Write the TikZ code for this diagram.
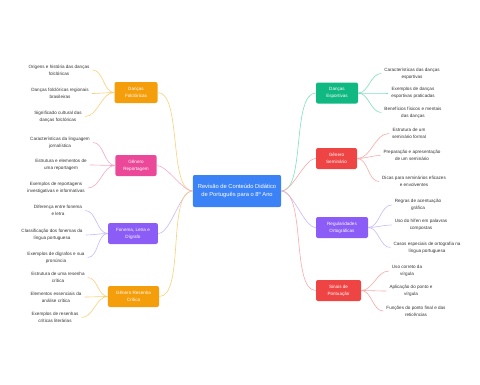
\documentclass[tikz,border=0pt]{standalone}
\usepackage{fontspec}
\setmainfont{Liberation Sans}
\definecolor{rootblue}{HTML}{3B82F6}
\definecolor{amber}{HTML}{F59E0B}
\definecolor{amberline}{HTML}{FBCF7A}
\definecolor{rose}{HTML}{EC4899}
\definecolor{roseline}{HTML}{F5A8CB}
\definecolor{violet}{HTML}{8B5CF6}
\definecolor{violetline}{HTML}{C7B8FB}
\definecolor{mint}{HTML}{10B981}
\definecolor{mintline}{HTML}{7EE0BE}
\definecolor{coral}{HTML}{EF4444}
\definecolor{coralline}{HTML}{F8A9A9}
\begin{document}
\begin{tikzpicture}[x=1pt, y=-1pt,
  root/.style={fill=rootblue, text=white, rounded corners=2pt, align=center,
    inner xsep=5pt, minimum height=32pt, font=\fontsize{5.8}{8}\selectfont},
  branch/.style={text=white, rounded corners=2pt, align=center,
    inner xsep=8pt, minimum height=21pt, font=\fontsize{4.6}{7}\selectfont},
  leaf/.style={align=center, inner xsep=3pt, inner ysep=1pt,
    text=black!80, font=\fontsize{4.6}{6.8}\selectfont},
  tolink/.style={line width=0.6pt, out=180, in=0, looseness=0.6},
  fromlink/.style={line width=0.6pt, out=0, in=180, looseness=0.6},
  leaflink/.style={line width=0.6pt, looseness=0.9}]
  \useasboundingbox (0,0) rectangle (480,384);

  % --- central topic ---
  \node[root] (root) at (237,191)
    {Revisão de Conteúdo Didático\\de Português para o 8º Ano};

  % --- left branches ---
  \node[branch, fill=amber, minimum width=43pt] (folk) at (136,92.5)
    {Danças\\Folclóricas};
  \node[branch, fill=rose, minimum width=41pt] (report) at (136,165.5)
    {Gênero\\Reportagem};
  \node[branch, fill=violet, minimum width=48pt] (phon) at (133,233.5)
    {Fonema, Letra e\\Dígrafo};
  \node[branch, fill=amber, minimum width=47pt] (review) at (133.5,296.5)
    {Gênero Resenha\\Crítica};

  % --- right branches ---
  \node[branch, fill=mint, minimum width=42pt] (sport) at (337,93)
    {Danças\\Esportivas};
  \node[branch, fill=coral, minimum width=41pt] (semin) at (336.5,158.5)
    {Gênero\\Seminário};
  \node[branch, fill=violet, minimum width=52pt] (ortho) at (342,227.5)
    {Regularidades\\Ortográficas};
  \node[branch, fill=coral, minimum width=45pt] (punct) at (338.5,290.5)
    {Sinais de\\Pontuação};

  % --- leaves, left side ---
  \node[leaf] (folkA) at (59,70) {Origens e história das danças\\folclóricas};
  \node[leaf] (folkB) at (60,93.5) {Danças folclóricas regionais\\brasileiras};
  \node[leaf] (folkC) at (58,116.5) {Significado cultural das\\danças folclóricas};
  \node[leaf] (reportA) at (60,142.5) {Características da linguagem\\jornalística};
  \node[leaf] (reportB) at (61,165) {Estrutura e elementos de\\uma reportagem};
  \node[leaf] (reportC) at (56,188) {Exemplos de reportagens\\investigativas e informativas};
  \node[leaf] (phonA) at (58,210.5) {Diferença entre fonema\\e letra};
  \node[leaf] (phonB) at (52,235) {Classificação dos fonemas da\\língua portuguesa};
  \node[leaf] (phonC) at (56,257.5) {Exemplos de dígrafos e sua\\pronúncia};
  \node[leaf] (reviewA) at (58,277.5) {Estrutura de uma resenha\\crítica};
  \node[leaf] (reviewB) at (56,297) {Elementos essenciais da\\análise crítica};
  \node[leaf] (reviewC) at (55,317.5) {Exemplos de resenhas\\críticas literárias};

  % --- leaves, right side ---
  \node[leaf] (sportA) at (412,73.5) {Características das danças\\esportivas};
  \node[leaf] (sportB) at (413,93) {Exemplos de danças\\esportivas praticadas};
  \node[leaf] (sportC) at (413,112.5) {Benefícios físicos e mentais\\das danças};
  \node[leaf] (seminA) at (409,133.5) {Estrutura de um\\seminário formal};
  \node[leaf] (seminB) at (412,155.5) {Preparação e apresentação\\de um seminário};
  \node[leaf] (seminC) at (414,181.5) {Dicas para seminários eficazes\\e envolventes};
  \node[leaf] (orthoA) at (418,205) {Regras de acentuação\\gráfica};
  \node[leaf] (orthoB) at (421,225) {Uso do hífen em palavras\\compostas};
  \node[leaf] (orthoC) at (427,247.5) {Casos especiais de ortografia na\\língua portuguesa};
  \node[leaf] (punctA) at (407,271) {Uso correto da\\vírgula};
  \node[leaf] (punctB) at (411,291) {Aplicação do ponto e\\vírgula};
  \node[leaf] (punctC) at (416,311) {Funções do ponto final e das\\reticências};

  % --- root to branches ---
  \draw[tolink, amberline] (root.west) to (folk.east);
  \draw[tolink, roseline] (root.west) to (report.east);
  \draw[tolink, violetline] (root.west) to (phon.east);
  \draw[tolink, amberline] (root.west) to (review.east);
  \draw[fromlink, mintline] (root.east) to (sport.west);
  \draw[fromlink, coralline] (root.east) to (semin.west);
  \draw[fromlink, violetline] (root.east) to (ortho.west);
  \draw[fromlink, coralline] (root.east) to (punct.west);

  % --- branches to leaves ---
  \foreach \b/\c in {folk/amberline, report/roseline, phon/violetline, review/amberline}
    \foreach \k in {A,B,C}
      \draw[leaflink, \c] (\b.west) to[out=180, in=0] (\b\k.east);
  \foreach \b/\c in {sport/mintline, semin/coralline, ortho/violetline, punct/coralline}
    \foreach \k in {A,B,C}
      \draw[leaflink, \c] (\b.east) to[out=0, in=180] (\b\k.west);
\end{tikzpicture}
\end{document}
